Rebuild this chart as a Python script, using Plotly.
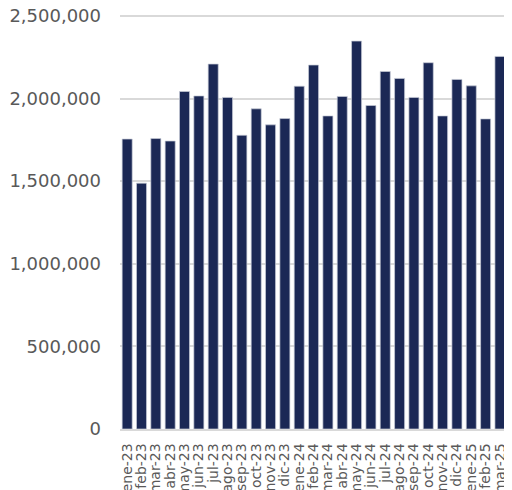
import plotly.graph_objects as go

# Monthly totals, ene-23 .. abr-25
months = [
    "ene-23", "feb-23", "mar-23", "abr-23", "may-23", "jun-23", "jul-23",
    "ago-23", "sep-23", "oct-23", "nov-23", "dic-23",
    "ene-24", "feb-24", "mar-24", "abr-24", "may-24", "jun-24", "jul-24",
    "ago-24", "sep-24", "oct-24", "nov-24", "dic-24",
    "ene-25", "feb-25", "mar-25", "abr-25",
]
values = [
    1755000, 1488000, 1758000, 1743000, 2043000, 2016000, 2209000,
    2007000, 1778000, 1938000, 1841000, 1879000,
    2075000, 2203000, 1895000, 2013000, 2348000, 1958000, 2164000,
    2122000, 2007000, 2217000, 1895000, 2116000,
    2077000, 1877000, 2255000, 2292000,
]
y_ticks = [0, 500000, 1000000, 1500000, 2000000, 2500000]

NAVY = "#1b2855"
GRID = "#d9d9d9"
TEXT = "#595959"

fig = go.Figure(go.Bar(
    x=months, y=values,
    marker=dict(color=NAVY, line=dict(color="#c9cdd8", width=0.7)),
))

# the chart is cropped on the right: the last bar only peeks in at the edge
fig.update_layout(
    width=504, height=482,
    margin=dict(l=112, r=0, t=5, b=61),
    paper_bgcolor="white", plot_bgcolor="white",
    bargap=0.30,
    showlegend=False,
    font=dict(family="DejaVu Sans", color=TEXT),
    xaxis=dict(
        range=[-0.5, 26.84],
        tickmode="array", tickvals=months,
        tickangle=-90, tickfont=dict(size=14, color=TEXT),
        showline=True, linecolor=GRID, linewidth=1.5,
        showgrid=False, ticks="", ticklabelstandoff=7,
        automargin=False, ticklabeloverflow="allow",
    ),
    yaxis=dict(
        range=[0, 2518000], tickvals=y_ticks, tickformat=",",
        tickfont=dict(size=18, color=TEXT),
        showgrid=True, gridcolor=GRID, gridwidth=1.5,
        zeroline=False, ticks="", ticklabelstandoff=18,
        automargin=False, ticklabeloverflow="allow",
    ),
)

# no scrollbars, so the page shows the full width of the figure
fig.write_html(
    "out.html",
    post_script="document.documentElement.style.overflow='hidden';"
                "document.body.style.overflow='hidden';",
)
